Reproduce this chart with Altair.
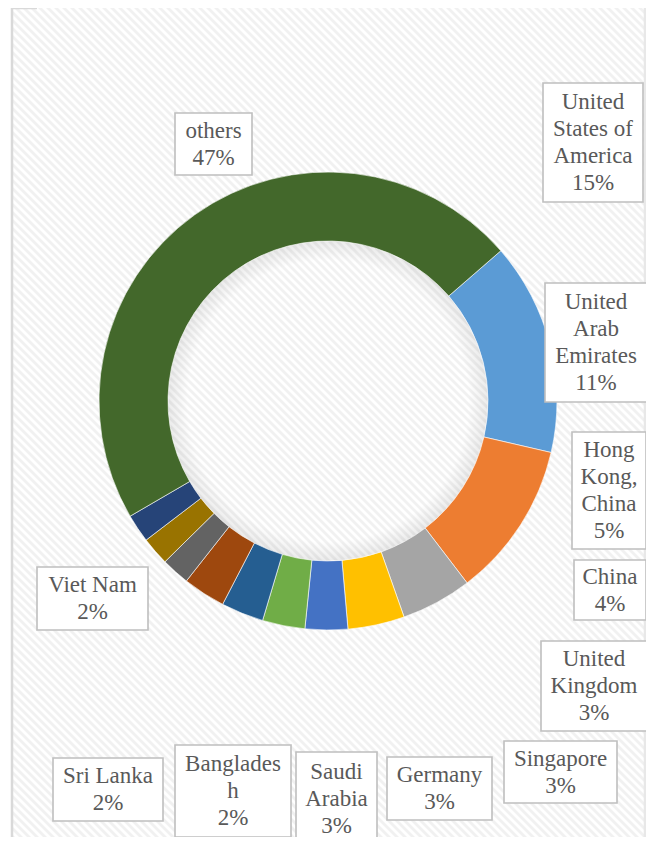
import math
import altair as alt
import pandas as pd

# ---------------- data ----------------
countries = ["United States of America", "United Arab Emirates", "Hong Kong, China",
             "China", "United Kingdom", "Singapore", "Germany", "Saudi Arabia",
             "Bangladesh", "Sri Lanka", "Viet Nam", "others"]
shares = [15, 11, 5, 4, 3, 3, 3, 3, 2, 2, 2, 47]
label_names = ["United\nStates of\nAmerica", "United\nArab\nEmirates", "Hong\nKong,\nChina",
               "China", "United\nKingdom", "Singapore", "Germany", "Saudi\nArabia",
               "Banglades\nh", "Sri Lanka", "Viet Nam", "others"]
colors = ["#5B9BD5", "#ED7D31", "#A5A5A5", "#FFC000", "#4472C4", "#70AD47",
          "#255E91", "#9E480E", "#636363", "#997300", "#264478", "#43682B"]

# ---------------- layout (page pixels) ----------------
W, H = 638, 829
X0, Y0 = 8, 8
LH = 27
box_x0 = [543, 545, 572, 574, 541, 504, 387, 296, 175, 53, 37, 175]
box_x1 = [643, 647, 646, 646, 647, 617, 492, 377, 291, 163, 148, 252]
box_y0 = [83, 283, 432, 560, 641, 741, 757, 752, 745, 758, 567, 113]
box_y1 = [202, 402, 549, 620, 731, 803, 820, 846, 837, 821, 630, 175]
CX, CY = 328, 401
R_OUT, R_IN = 229, 160
START = math.radians(49)

slices = pd.DataFrame({"country": countries, "share": shares, "idx": list(range(len(countries)))})
labels = pd.DataFrame({
    "country": countries,
    "text": [f"{n}\n{s}%" for n, s in zip(label_names, shares)],
    "bx0": box_x0, "bx1": box_x1, "by0": box_y0, "by1": box_y1,
})
labels["nl"] = labels["text"].str.count("\n") + 1
labels["cx"] = (labels["bx0"] + labels["bx1"]) / 2
labels["cy"] = (labels["by0"] + labels["by1"]) / 2 - (labels["nl"] - 1) * LH / 2

xs = alt.Scale(domain=[X0, X0 + W], nice=False, zero=False)
ys = alt.Scale(domain=[Y0, Y0 + H], nice=False, zero=False, reverse=True)

# background stripes
stripes = alt.Chart(alt.sequence(-648, 840, 8, as_="k")).transform_calculate(
    xa="8", xb="646", ya="8 + datum.k", yb="646 + datum.k"
).mark_rule(color="#F1F1F1", strokeWidth=2.8, clip=True).encode(
    x=alt.X("xa:Q", scale=xs, axis=None), x2="xb:Q",
    y=alt.Y("ya:Q", scale=ys, axis=None), y2="yb:Q",
)

margin = alt.Chart(alt.Data(values=[{"a": 8, "b": 12, "c": 8, "d": 837}])).mark_rect(
    color="white").encode(
    x=alt.X("a:Q", scale=xs, axis=None), x2="b:Q",
    y=alt.Y("c:Q", scale=ys, axis=None), y2="d:Q")

borders = alt.Chart(alt.Data(values=[
    {"a": 12, "b": 12, "c": 8, "d": 837, "col": "#D9D9D9"},
    {"a": 12, "b": 37, "c": 8, "d": 8, "col": "#D9D9D9"},
    {"a": 645, "b": 645, "c": 8, "d": 837, "col": "#E8E8E8"},
])).mark_rule(strokeWidth=2.5).encode(
    x=alt.X("a:Q", scale=xs, axis=None), x2="b:Q",
    y=alt.Y("c:Q", scale=ys, axis=None), y2="d:Q",
    color=alt.Color("col:N", scale=None))

shadow = alt.Chart(alt.Data(values=[{"v": 1}])).mark_arc(
    outerRadius=R_IN, innerRadius=0,
    fill=alt.Gradient(gradient="radial", x1=0.5, y1=0.5, r1=0, x2=0.5, y2=0.5, r2=0.5,
                      stops=[alt.GradientStop(color="rgba(0,0,0,0)", offset=0.88),
                             alt.GradientStop(color="rgba(0,0,0,0.08)", offset=1.0)]),
).encode(x=alt.value(CX - X0), y=alt.value(CY - Y0),
         theta=alt.value(0), theta2=alt.value(2 * math.pi))

donut = alt.Chart(slices).mark_arc(
    outerRadius=R_OUT, innerRadius=R_IN, stroke="#FFFFFF", strokeWidth=0.6
).encode(
    x=alt.value(CX - X0), y=alt.value(CY - Y0),
    theta=alt.Theta("share:Q", stack=True,
                    scale=alt.Scale(range=[START, START + 2 * math.pi])),
    color=alt.Color("country:N", scale=alt.Scale(domain=countries, range=colors), legend=None),
    order=alt.Order("idx:Q"),
)

boxes = alt.Chart(labels).mark_rect(fill="white", stroke="#BFBFBF", strokeWidth=1.6).encode(
    x=alt.X("bx0:Q", scale=xs, axis=None), x2="bx1:Q",
    y=alt.Y("by0:Q", scale=ys, axis=None), y2="by1:Q",
)

texts = alt.Chart(labels).mark_text(
    font="Liberation Serif, Times New Roman, serif", fontSize=23, color="#595959",
    lineBreak="\n", lineHeight=LH, align="center", baseline="middle"
).encode(
    x=alt.X("cx:Q", scale=xs, axis=None),
    y=alt.Y("cy:Q", scale=ys, axis=None),
    text="text:N",
)

chart = alt.layer(stripes, margin, borders, shadow, donut, boxes, texts).properties(
    width=W, height=H, padding=0, autosize="none", background="white"
).configure_view(stroke=None)

chart.save("out.html", embed_options={"renderer": "svg", "actions": False})
